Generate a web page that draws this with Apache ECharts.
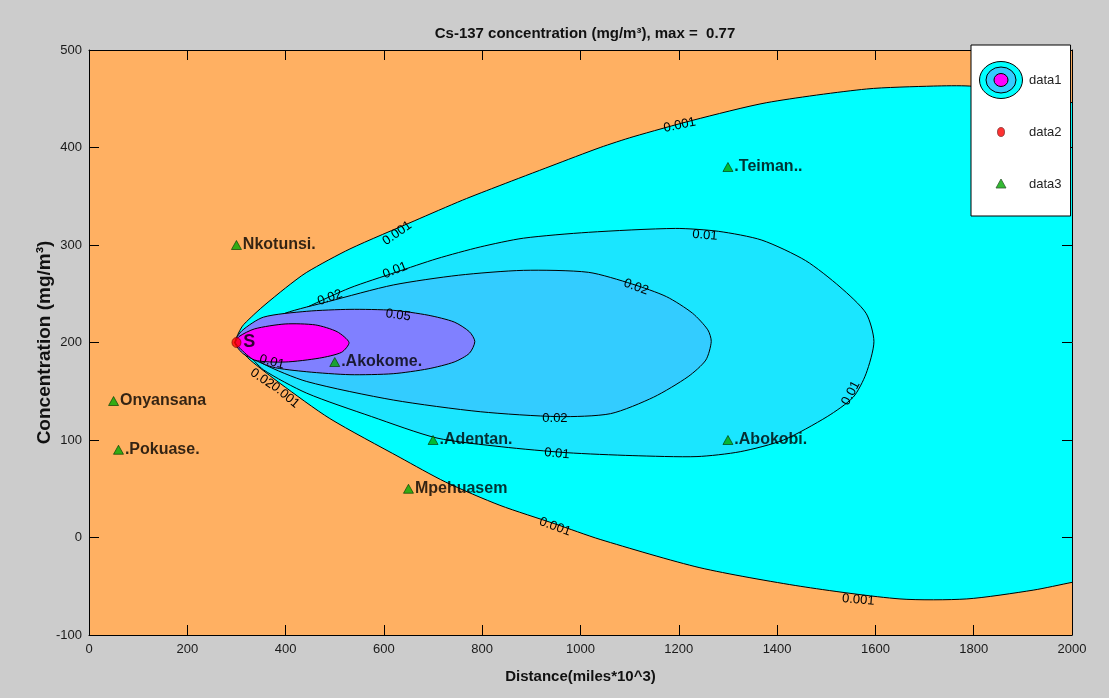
<!DOCTYPE html>
<html><head><meta charset="utf-8">
<script src="https://cdn.jsdelivr.net/npm/echarts@6/dist/echarts.min.js"></script>
<style>html,body{margin:0;padding:0;background:#cccccc;} #c{width:1109px;height:698px;}</style>
</head><body><div id="c"></div>
<script>
// ---- contour outlines (data coordinates) ----
const level0001 = [[297,200],[311,216],[330,226],[354,237],[400,256],[443,272],[531,296],[663,325],[760,346],[836,361],[940,381],[1040,400],[1107,411],[1229,428],[1379,446],[1582,460],[1718,463],[1792,463],[1900,457],[2000,446],[2120,432],
  [2120,-34],[2000,-46],[1921,-54],[1786,-63],[1650,-63],[1447,-50],[1243,-31],[1040,-2],[948,14],[836,33],[725,57],[633,82],[490,122],[389,158],[328,182],[305,194]];
const level001 = [[297,200],[320,207],[355,214],[443,236],[531,256],[624,272],[708,286],[796,298],[884,307],[1016,313],[1193,317],[1281,314],[1369,305],[1458,284],[1528,257],[1581,230],[1597,201],
  [1581,168],[1555,144],[1502,124],[1413,100],[1325,88],[1237,83],[1105,84],[972,87],[840,93],[708,102],[575,124],[443,148],[355,172],[320,190]];
const level002 = [[297,200],[320,208],[355,218],[399,230],[487,242],[619,259],[752,269],[884,274],[1016,272],[1105,260],[1175,247],[1228,230],[1259,213],[1266,201],
  [1255,182],[1219,165],[1149,144],[1061,127],[955,124],[796,129],[619,141],[443,160],[355,178],[320,192]];
const level005 = [[297,200],[311,212],[355,226],[443,232],[531,234],[619,233],[690,228],[743,221],[774,211],[785,201],[774,189],[743,180],[690,173],[619,168],[531,167],[443,170],[372,175],[315,188]];
const levelMax = [[298,200],[305,206],[337,214],[399,219],[461,218],[505,211],[529,200],[514,190],[469,184],[399,180],[337,182],[305,195]];
const levelColors = ['#00FFFF','#1AE6FF','#33CCFF','#8080FF','#FF00FF'];

// ---- source point (data2) ----
const sourceX = [300];
const sourceY = [200];
const sourceName = ['S'];

// ---- receptor stations (data3) ----
const stationNames = ['Nkotunsi.','.Teiman..','.Akokome.','Onyansana','.Pokuase.','.Adentan.','.Abokobi.','Mpehuasem'];
const stationX = [300,1300,500,50,60,700,1300,650];
const stationY = [300,380,180,140,90,100,100,50];

// ---- contour labels ----
const contourLabelText  = ['0.001','0.001','0.01','0.02','0.05','0.01','0.02','0.01','0.02','0.01','0.001','0.001','0.01','0.02','0.001'];
const contourLabelX     = [1202,627,623,490,629,1253,1113,1550,948,952,948,1565,372,352,399];
const contourLabelY     = [423,312,274,246,228,310,257,148,122,86,11,-64,180,163,146];
const contourLabelAngle = [12,35,22,20,-8,-5,-20,62,0,-5,-20,-5,-15,-35,-40];

// ---- axes ----
const xMin = 0, xMax = 2000, xStep = 200;
const yMin = -100, yMax = 500, yStep = 100;

const NARROW = '"Liberation Sans Narrow","Liberation Sans",Arial,sans-serif';
const SANS = '"Liberation Sans",Arial,sans-serif';

function svgIcon(body){
  return 'image://data:image/svg+xml;charset=utf-8,' + encodeURIComponent(
    '<svg xmlns="http://www.w3.org/2000/svg" width="46" height="40" viewBox="0 0 46 40">' + body + '</svg>');
}
const icon1 = svgIcon('<ellipse cx="23" cy="20" rx="21.5" ry="18.5" fill="#00FFFF" stroke="#000" stroke-width="1"/>' +
  '<ellipse cx="23" cy="20" rx="15" ry="13" fill="#33CCFF" stroke="#000" stroke-width="1"/>' +
  '<ellipse cx="23" cy="20" rx="7" ry="6.5" fill="#FF00FF" stroke="#000" stroke-width="1"/>');
const icon2 = svgIcon('<ellipse cx="23" cy="20" rx="3.5" ry="4.5" fill="#FF0000" stroke="#600" stroke-width="0.8"/>');
const icon3 = svgIcon('<polygon points="23,15 28,24 18,24" fill="#00AA00" stroke="#030" stroke-width="0.8"/>');

function polySeries(name, pts, fill, z){
  return {
    type:'custom', name:name, data:pts, xAxisIndex:0, yAxisIndex:0, z:z, clip:true, silent:true,
    encode:{x:0,y:1},
    renderItem:function(params, api){
      if (params.dataIndex !== 0) return null;
      const P = pts.map(function(p){ return api.coord(p); });
      return {type:'polygon', shape:{points:P, smooth:0.25}, style:{fill:fill, stroke:'#000', lineWidth:1}};
    }
  };
}

const stationData = stationNames.map(function(n,i){ return [stationX[i], stationY[i], n]; });
const sourceData = sourceName.map(function(n,i){ return [sourceX[i], sourceY[i], n]; });
const labelData = contourLabelText.map(function(t,i){ return [contourLabelX[i], contourLabelY[i]]; });

const chart = echarts.init(document.getElementById('c'));
const axisCommon = {
  axisLine:{show:true, onZero:false, lineStyle:{color:'#000', width:1}},
  axisTick:{show:true, inside:true, length:10, lineStyle:{color:'#000'}},
  splitLine:{show:false}
};
chart.setOption({
  backgroundColor:'#cccccc',
  animation:false,
  title:{
    text:'Cs-137 concentration (mg/m³), max =  0.77',
    left:580, top:21, textAlign:'center',
    textStyle:{fontFamily:NARROW, fontWeight:'bold', fontSize:15, color:'#111'}
  },
  legend:{
    orient:'vertical', left:971, top:45, z:20,
    backgroundColor:'#ffffff', borderColor:'#000', borderWidth:1, borderRadius:0,
    padding:[15,9,12,7], itemGap:12, itemWidth:46, itemHeight:40,
    textStyle:{fontFamily:NARROW, fontSize:13, color:'#222'},
    data:[{name:'data1', icon:icon1},{name:'data2', icon:icon2},{name:'data3', icon:icon3}],
    selectedMode:false
  },
  grid:{left:89, top:50, right:37, bottom:63, show:true, backgroundColor:'#FFB062', borderWidth:0},
  xAxis:[
    Object.assign({type:'value', min:xMin, max:xMax, interval:xStep, position:'bottom', z:10,
      name:'Distance(miles*10^3)', nameLocation:'middle', nameGap:34, nameMoveOverlap:false,
      nameTextStyle:{fontFamily:NARROW, fontWeight:'bold', fontSize:15, color:'#111'},
      axisLabel:{margin:8, fontFamily:NARROW, fontSize:13, color:'#1a1a1a', formatter:function(v){return String(v);}}}, axisCommon),
    Object.assign({type:'value', min:xMin, max:xMax, interval:xStep, position:'top', z:10,
      axisLabel:{show:false}}, axisCommon)
  ],
  yAxis:[
    Object.assign({type:'value', min:yMin, max:yMax, interval:yStep, position:'left', z:10,
      name:'Concentration (mg/m³)', nameLocation:'middle', nameGap:35, nameMoveOverlap:false,
      nameTextStyle:{fontFamily:SANS, fontWeight:'bold', fontSize:19, color:'#111'},
      axisLabel:{margin:7, fontFamily:NARROW, fontSize:13, color:'#1a1a1a', formatter:function(v){return String(v);}}}, axisCommon),
    Object.assign({type:'value', min:yMin, max:yMax, interval:yStep, position:'right', z:10,
      axisLabel:{show:false}}, axisCommon)
  ],
  series:[
    polySeries('data1', level0001, levelColors[0], 2),
    polySeries('c001', level001, levelColors[1], 2),
    polySeries('c002', level002, levelColors[2], 2),
    polySeries('c005', level005, levelColors[3], 2),
    polySeries('cmax', levelMax, levelColors[4], 2),
    {
      type:'custom', name:'labels', data:labelData, z:3, silent:true, clip:true,
      encode:{x:0,y:1},
      renderItem:function(params, api){
        const p = api.coord([api.value(0), api.value(1)]);
        const i = params.dataIndex;
        return {type:'text', x:p[0], y:p[1], rotation:contourLabelAngle[i]*Math.PI/180,
          style:{text:contourLabelText[i], fill:'#000', fontFamily:SANS, fontSize:13, align:'center', verticalAlign:'middle'}};
      }
    },
    {
      type:'scatter', name:'data2', data:sourceData, z:5, symbol:'circle', symbolSize:[9,10],
      itemStyle:{color:'#FF0000', borderColor:'#600', borderWidth:0.8},
      label:{show:true, position:'right', distance:2, formatter:function(p){return p.value[2];},
        fontFamily:SANS, fontWeight:'bold', fontSize:18, color:'#000'}
    },
    {
      type:'scatter', name:'data3', data:stationData, z:5, symbol:'triangle', symbolSize:[10,9],
      itemStyle:{color:'#00AA00', borderColor:'#030', borderWidth:0.8},
      label:{show:true, position:'right', distance:1, formatter:function(p){return p.value[2];},
        fontFamily:SANS, fontWeight:'bold', fontSize:16, color:'#000'}
    }
  ]
});
</script>
</body></html>
